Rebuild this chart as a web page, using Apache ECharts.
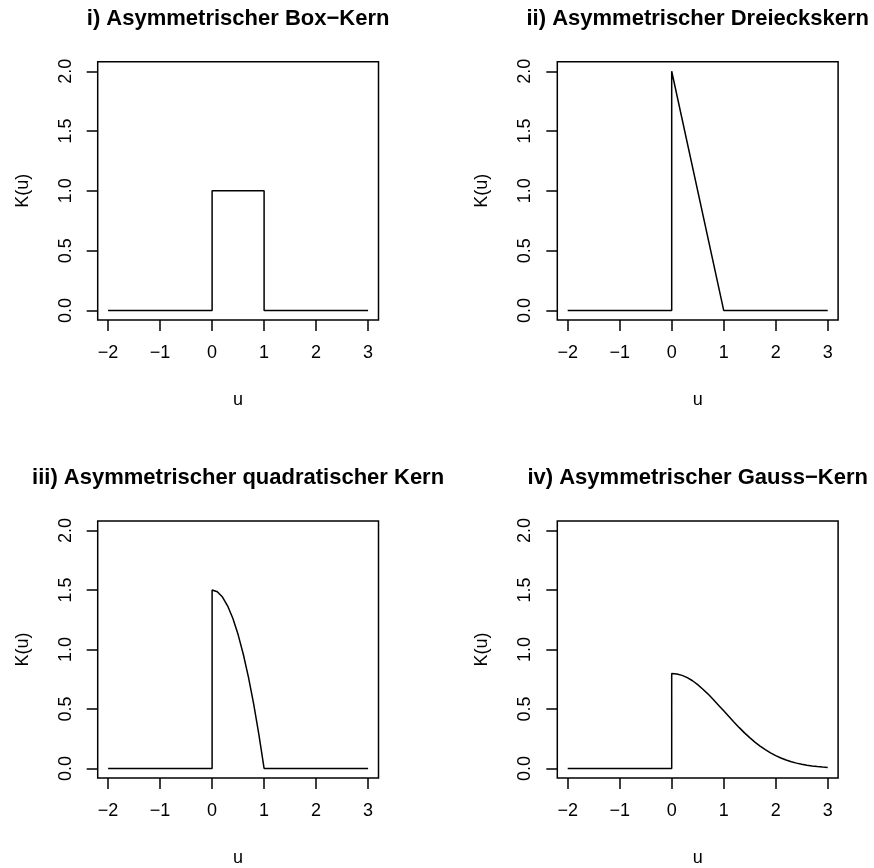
<!DOCTYPE html>
<html>
<head>
<meta charset="utf-8">
<title>Asymmetrische Kerne</title>
<script src="https://cdn.jsdelivr.net/npm/echarts@6/dist/echarts.min.js"></script>
<style>
  html, body { margin: 0; padding: 0; background: #fff; }
  #chart { width: 874px; height: 868px; }
</style>
</head>
<body>
<div id="chart"></div>
<script>
// Panel titles
const titles = [
  'i) Asymmetrischer Box\u2212Kern',
  'ii) Asymmetrischer Dreieckskern',
  'iii) Asymmetrischer quadratischer Kern',
  'iv) Asymmetrischer Gauss\u2212Kern'
];

// Axis ticks
const uTicks = [-2, -1, 0, 1, 2, 3];
const kTicks = [0, 0.5, 1, 1.5, 2];

// i) Box kernel
const boxU = [-2, 0, 0, 1, 1, 3];
const boxK = [0, 0, 1, 1, 0, 0];

// ii) Triangle kernel
const triU = [-2, 0, 0, 1, 3];
const triK = [0, 0, 2, 0, 0];

// iii) Quadratic kernel
const quadU = [-2, 0, 0, 0.1, 0.2, 0.3, 0.4, 0.5, 0.6, 0.7, 0.8, 0.9, 1, 3];
const quadK = [0, 0, 1.5, 1.485, 1.44, 1.365, 1.26, 1.125, 0.96, 0.765, 0.54, 0.285, 0, 0];

// iv) Gaussian kernel
const gaussU = [-2, 0, 0, 0.1, 0.2, 0.3, 0.4, 0.5, 0.6, 0.7, 0.8, 0.9, 1.0,
  1.1, 1.2, 1.3, 1.4, 1.5, 1.6, 1.7, 1.8, 1.9, 2.0,
  2.1, 2.2, 2.3, 2.4, 2.5, 2.6, 2.7, 2.8, 2.9, 3.0];
const gaussK = [0, 0, 0.798, 0.794, 0.782, 0.763, 0.737, 0.704, 0.666, 0.625, 0.579, 0.532, 0.484,
  0.436, 0.388, 0.343, 0.299, 0.259, 0.222, 0.188, 0.158, 0.131, 0.108,
  0.088, 0.071, 0.057, 0.045, 0.035, 0.027, 0.021, 0.016, 0.012, 0.009];

const curves = [[boxU, boxK], [triU, triK], [quadU, quadK], [gaussU, gaussK]];

const FONT = '"Liberation Sans", Arial, Helvetica, sans-serif';
const INK = '#000';
const LW = 1.5;

// Panel layout (2 x 2)
const lefts = [97.7, 557.3];
const tops = [61.7, 520.9];
const W = 280.8;
const H = 258.3;

const pairs = (us, ks) => us.map((u, i) => [u, ks[i]]);
const minus = s => String(s).replace('-', '\u2212');

const grid = [], xAxis = [], yAxis = [], series = [], title = [];

for (let p = 0; p < 4; p++) {
  const col = p % 2, row = Math.floor(p / 2);
  const left = lefts[col], top = tops[row];

  grid.push({
    left: left, top: top, width: W, height: H,
    show: true, borderColor: INK, borderWidth: LW,
    backgroundColor: 'transparent', containLabel: false
  });

  title.push({
    text: titles[p],
    left: left + W / 2,
    top: top - 54,
    textAlign: 'center',
    padding: 0,
    textStyle: { fontFamily: FONT, fontSize: 22, fontWeight: 'bold', color: INK }
  });

  xAxis.push({
    type: 'value', gridIndex: p, position: 'bottom',
    min: -2.2, max: 3.2,
    name: 'u', nameLocation: 'middle', nameGap: 71,
    nameTextStyle: { fontFamily: FONT, fontSize: 18, color: INK },
    splitLine: { show: false },
    axisLine: { show: false, onZero: false },
    axisTick: { show: true, inside: false, customValues: uTicks, length: 11, lineStyle: { color: INK, width: LW } },
    axisLabel: {
      customValues: uTicks, margin: 24,
      fontFamily: FONT, fontSize: 18, color: INK,
      formatter: v => minus(v)
    }
  });

  yAxis.push({
    type: 'value', gridIndex: p, position: 'left',
    min: -0.08, max: 2.08,
    name: 'K(u)', nameLocation: 'middle', nameGap: 66, nameRotate: 90,
    nameTextStyle: { fontFamily: FONT, fontSize: 18, color: INK },
    splitLine: { show: false },
    axisLine: { show: false, onZero: false },
    axisTick: { show: true, inside: false, customValues: kTicks, length: 11, lineStyle: { color: INK, width: LW } },
    axisLabel: {
      customValues: kTicks, margin: 23, rotate: 90,
      fontFamily: FONT, fontSize: 18, color: INK,
      formatter: v => Number(v).toFixed(1)
    }
  });

  series.push({
    type: 'line', xAxisIndex: p, yAxisIndex: p,
    data: pairs(curves[p][0], curves[p][1]),
    showSymbol: false, symbol: 'none',
    lineStyle: { color: INK, width: LW },
    silent: true, animation: false
  });
}

const chart = echarts.init(document.getElementById('chart'), null, { renderer: 'canvas' });
chart.setOption({
  backgroundColor: '#fff',
  animation: false,
  title, grid, xAxis, yAxis, series
});
</script>
</body>
</html>
